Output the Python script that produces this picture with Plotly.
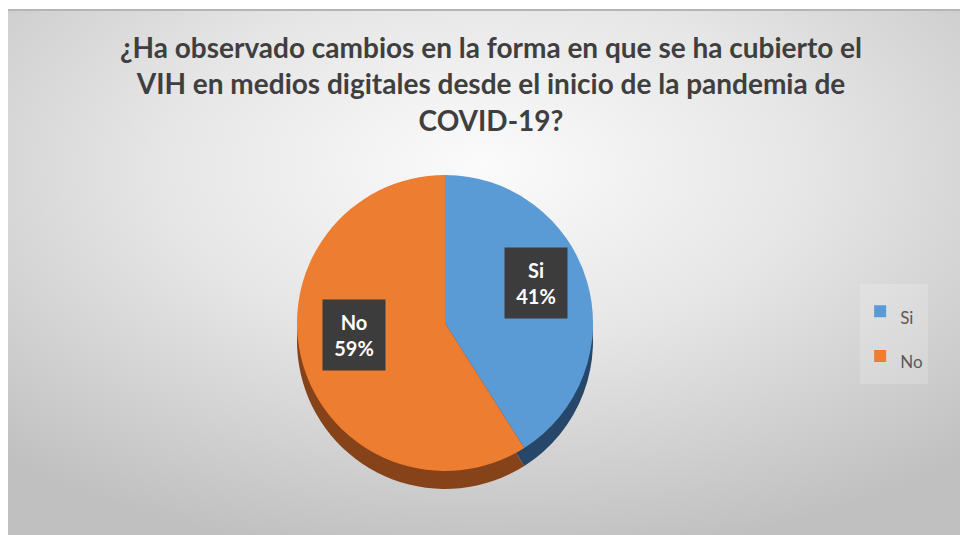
import base64
import math
import plotly.graph_objects as go

# ---- data ----
labels = ["Si", "No"]
values = [41, 59]
title_lines = [
    "¿Ha observado cambios en la forma en que se ha cubierto el",
    "VIH en medios digitales desde el inicio de la pandemia de",
    "COVID-19?",
]

# ---- styling ----
W, H = 960, 535
top_colors = ["#5B9BD5", "#ED7D31"]
side_colors = ["#26476A", "#86431A"]
FONT = "Lato"

# pie geometry in pixels
cx, cy, diam, depth = 445, 323, 296, 18

def dom(cx_, cy_):
    return dict(
        x=[(cx_ - diam / 2) / W, (cx_ + diam / 2) / W],
        y=[1 - (cy_ + diam / 2) / H, 1 - (cy_ - diam / 2) / H],
    )

legend_labels = [f"<span style='font-size:17px'>{l}</span>" for l in labels]

fig = go.Figure()

# side (depth) of the 3D pie
fig.add_trace(go.Pie(
    labels=legend_labels, values=values, sort=False, direction="clockwise", rotation=0,
    marker=dict(colors=side_colors, line=dict(width=0)),
    textinfo="none", hoverinfo="skip", showlegend=False,
    domain=dom(cx, cy + depth),
))
# top face
fig.add_trace(go.Pie(
    labels=legend_labels, values=values, sort=False, direction="clockwise", rotation=0,
    marker=dict(colors=top_colors, line=dict(width=0)),
    textinfo="none", showlegend=True,
    domain=dom(cx, cy),
))

# data labels in dark boxes, placed at each slice's mid angle
total = sum(values)
cum = 0
annotations = []
for lab, v in zip(labels, values):
    mid = (cum + v / 2) / total * 2 * math.pi
    cum += v
    r = diam / 2 * 0.64
    px = cx + r * math.sin(mid)
    py = cy - r * math.cos(mid) - 14
    annotations.append(dict(
        x=px / W, y=1 - py / H, xref="paper", yref="paper",
        text=f"<b>{lab}<br>{round(v / total * 100)}%</b>",
        showarrow=False, font=dict(family=FONT, size=20, color="white"),
        bgcolor="#3c3c3c", width=54, height=62, borderpad=4,
        align="center", valign="middle",
    ))

# radial gradient background as an inline svg image
svg = (
    '<svg xmlns="http://www.w3.org/2000/svg" width="952" height="526" viewBox="0 0 952 526" '
    'preserveAspectRatio="none"><defs><radialGradient id="g" cx="0.5" cy="0.3" r="0.75">'
    '<stop offset="0" stop-color="#fbfbfb"/><stop offset="0.45" stop-color="#e6e6e6"/>'
    '<stop offset="1" stop-color="#c0c0c0"/></radialGradient></defs>'
    '<rect width="952" height="526" fill="url(#g)"/>'
    '<rect width="952" height="2" fill="#b5b5b5"/></svg>'
)
src = "data:image/svg+xml;base64," + base64.b64encode(svg.encode()).decode()

title_text = "<br>".join(
    f"<span style='font-size:28px'><b>{t}</b></span>" for t in title_lines
)

fig.update_layout(
    width=W, height=H,
    margin=dict(l=0, r=0, t=0, b=0),
    paper_bgcolor="white", plot_bgcolor="rgba(0,0,0,0)",
    title=dict(text=title_text, x=491 / W, xanchor="center", y=1 - 58 / H,
               yanchor="top", yref="container",
               font=dict(family=FONT, size=28, color="#3f3f3f")),
    legend=dict(x=0.896, y=1 - 334 / H, xanchor="left", yanchor="middle",
                font=dict(family=FONT, size=32, color="#595959"),
                bgcolor="rgba(255,255,255,0.18)"),
    images=[dict(source=src, xref="paper", yref="paper", x=8 / W, y=1 - 9 / H,
                 sizex=952 / W, sizey=526 / H, sizing="stretch",
                 xanchor="left", yanchor="top", layer="below")],
    annotations=annotations,
)

fig.write_html("out.html", config={"displayModeBar": False},
               post_script="document.body.style.margin='0';")
